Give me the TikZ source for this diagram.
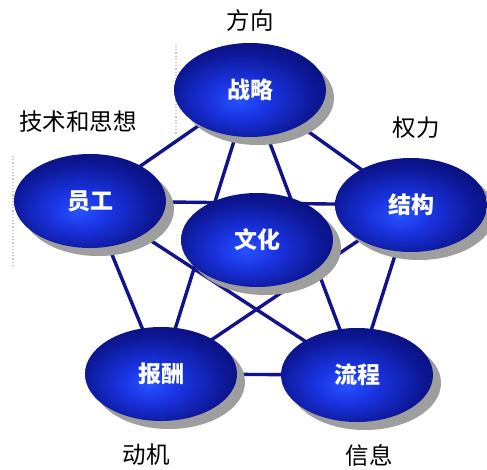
\documentclass[tikz,border=0pt]{standalone}
\usepackage{fontspec}
\newfontfamily\cjk{Noto Sans CJK SC}
\usetikzlibrary{shadows,backgrounds,shapes.geometric}
\pgfdeclareradialshading{ballshade}{\pgfpoint{-4bp}{-6bp}}{rgb(0bp)=(0.15,0.32,1); rgb(10bp)=(0.10,0.20,0.88); rgb(24bp)=(0.05,0.09,0.58); rgb(37bp)=(0.03,0.03,0.40); rgb(60bp)=(0.02,0.02,0.30)}
\definecolor{linkblue}{RGB}{18,18,140}
\tikzset{
  ball/.style={ellipse, minimum width=152pt, minimum height=94pt, inner sep=0pt,
    shading=ballshade, text=white, font=\cjk\bfseries\fontsize{23}{23}\selectfont,
    drop shadow={shadow xshift=8pt, shadow yshift=-8pt, fill=black!38, opacity=1}},
  lbl/.style={font=\cjk\fontsize{23.5}{24}\selectfont, text=black, inner sep=0pt},
  link/.style={draw=linkblue, line width=3.4pt},
  faint/.style={draw=black!22, line width=1.2pt, dotted}
}
\begin{document}
\begin{tikzpicture}[x=1pt,y=-1pt]
\useasboundingbox (0,0) rectangle (487,469);
\coordinate (f1a) at (176,46); \coordinate (f1b) at (176,134);
\coordinate (f2a) at (13,156); \coordinate (f2b) at (13,266);
\draw[faint] (f1a) -- (f1b);
\draw[faint] (f2a) -- (f2b);
\node[ball] (zl) at (250,90) {战略};
\node[ball] (yg) at (90,201) {员工};
\node[ball] (jg) at (411,205) {结构};
\node[ball] (bc) at (161,374) {报酬};
\node[ball] (lc) at (357,375) {流程};
\node[ball] (wh) at (257,240) {文化};
\node[lbl] (t1) at (250,21) {方向};
\node[lbl] (t2) at (78,122) {技术和思想};
\node[lbl] (t3) at (416,128) {权力};
\node[lbl] (t4) at (146,455) {动机};
\node[lbl] (t5) at (369,455) {信息};
\begin{pgfonlayer}{background}
\fill[white] (0,0) rectangle (487,469);
\draw[link] (zl.center) -- (yg.center) -- (bc.center) -- (lc.center) -- (jg.center) -- (zl.center);
\draw[link] (zl.center) -- (bc.center);
\draw[link] (zl.center) -- (lc.center);
\draw[link] (yg.center) -- (jg.center);
\draw[link] (yg.center) -- (lc.center);
\draw[link] (jg.center) -- (bc.center);
\end{pgfonlayer}
\end{tikzpicture}
\end{document}
